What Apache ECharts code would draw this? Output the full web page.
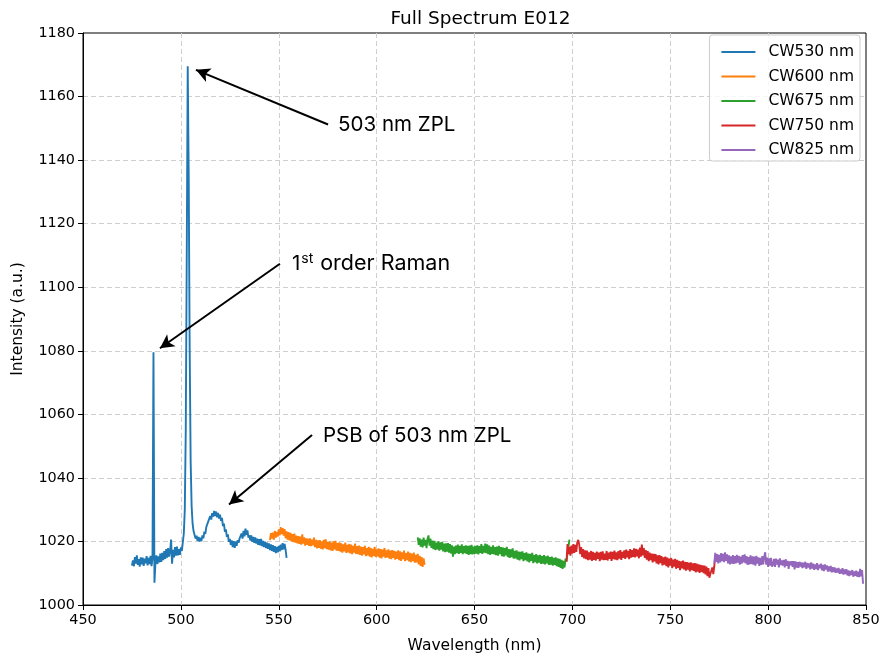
<!DOCTYPE html>
<html>
<head>
<meta charset="utf-8">
<script src="https://cdn.jsdelivr.net/npm/echarts@6/dist/echarts.min.js"></script>
<style>html,body{margin:0;padding:0;background:#fff}#c{width:887px;height:659px}</style>
</head>
<body>
<div id="c"></div>
<script>
// Sampling grid (nm) for each measured window
const step = 0.5;
const cw530Start = 475.0;
const cw600Start = 545.5;
const cw675Start = 621.0;
const cw750Start = 697.0;
const cw825Start = 772.5;

const seriesNames = ['CW530 nm','CW600 nm','CW675 nm','CW750 nm','CW825 nm'];
const colors = ['#1f77b4','#ff7f0e','#2ca02c','#d62728','#9467bd'];

const cw530 = [
1012.4,1014.0,1012.2,1015.1,1013.0,1015.6,1012.6,1014.4,1012.1,1015.0,
1012.8,1014.9,1012.3,1014.6,1013.1,1015.4,1012.5,1014.8,1012.9,1015.5,
1012.2,1014.6,1079.5,1007.0,1013.2,1015.6,1012.9,1015.3,1013.4,1016.2,
1013.6,1016.4,1014.1,1017.0,1014.5,1017.6,1014.9,1017.9,1015.2,1017.0,
1020.6,1013.0,1017.4,1015.0,1018.2,1015.5,1018.4,1015.6,1017.6,1015.8,
1018.1,1017.0,1019.8,1022.5,1030.0,1055.0,1110.0,1169.5,1135.0,1080.0,
1045.0,1031.0,1025.5,1023.2,1022.6,1020.9,1021.8,1020.2,1021.4,1020.0,
1021.2,1020.1,1021.9,1021.0,1023.1,1022.4,1024.6,1024.0,1026.3,1025.7,
1028.0,1026.9,1028.9,1027.8,1029.6,1028.0,1029.4,1027.6,1029.0,1027.2,
1028.4,1026.5,1027.4,1024.8,1025.6,1023.0,1023.8,1021.4,1022.2,1019.9,
1020.8,1018.9,1020.3,1018.2,1020.1,1018.0,1019.9,1018.6,1020.4,1019.6,
1021.0,1020.4,1022.5,1020.9,1023.3,1021.6,1024.0,1022.1,1023.5,1021.2,
1022.0,1020.3,1021.9,1019.9,1021.4,1019.6,1021.3,1019.3,1020.9,1018.9,
1020.7,1018.8,1020.8,1018.5,1020.2,1018.2,1019.9,1017.9,1019.6,1017.7,
1019.4,1017.3,1019.1,1017.0,1018.8,1016.7,1018.5,1016.3,1018.3,1016.6,
1018.6,1016.9,1019.0,1017.3,1019.5,1017.5,1019.2,1017.4,1014.8
];
const cw600 = [
1020.4,1022.6,1020.9,1022.8,1020.6,1023.3,1021.2,1023.0,1021.5,1023.8,
1021.9,1024.5,1022.3,1024.2,1021.8,1023.9,1021.0,1023.2,1020.6,1022.9,
1020.3,1022.7,1020.0,1022.3,1019.8,1022.5,1019.6,1021.8,1019.4,1021.7,
1019.2,1021.5,1019.0,1022.2,1019.3,1021.3,1018.7,1021.0,1018.9,1020.9,
1018.6,1021.0,1018.5,1020.6,1018.8,1021.2,1018.2,1020.5,1017.8,1020.3,
1018.0,1020.4,1017.7,1020.0,1017.5,1020.5,1017.9,1020.7,1017.6,1019.8,
1017.4,1020.1,1017.2,1019.6,1017.0,1020.0,1017.5,1020.2,1017.1,1019.5,
1017.0,1019.7,1016.8,1019.4,1016.5,1019.1,1016.9,1019.6,1016.4,1018.9,
1016.6,1019.2,1016.2,1019.0,1016.0,1018.6,1016.5,1019.3,1016.1,1018.5,
1016.0,1018.7,1015.8,1018.4,1015.5,1018.2,1015.9,1018.6,1015.4,1017.9,
1015.6,1018.3,1015.2,1018.0,1015.0,1017.7,1015.5,1018.3,1015.1,1017.5,
1015.3,1017.8,1014.9,1017.6,1014.7,1017.4,1015.2,1017.9,1014.8,1017.2,
1015.0,1017.5,1014.6,1017.1,1014.4,1017.3,1014.8,1017.0,1014.3,1016.8,
1014.5,1017.2,1014.1,1016.9,1013.9,1016.6,1014.4,1017.1,1013.8,1016.3,
1014.1,1016.8,1013.7,1016.4,1013.5,1016.2,1013.8,1016.5,1013.3,1015.8,
1013.4,1016.1,1012.8,1015.5,1012.3,1015.1,1012.0,1014.7,1012.6
];
const cw675 = [
1021.3,1018.9,1021.0,1018.4,1020.6,1018.1,1021.2,1018.7,1020.5,1017.9,
1020.8,1021.9,1018.7,1020.9,1018.0,1020.3,1017.6,1020.2,1017.3,1019.6,
1017.5,1020.0,1017.1,1019.7,1017.4,1019.9,1016.9,1019.3,1016.6,1019.4,
1016.8,1019.5,1016.5,1019.2,1016.2,1018.8,1015.2,1018.4,1016.0,1018.7,
1016.3,1019.0,1016.1,1018.6,1016.4,1019.1,1016.0,1018.5,1016.3,1018.8,
1016.1,1018.6,1015.8,1018.7,1016.0,1018.9,1015.9,1018.4,1016.1,1018.6,
1016.2,1018.8,1015.9,1018.5,1016.4,1019.2,1016.1,1018.6,1016.5,1019.3,
1016.3,1019.1,1016.0,1018.7,1015.8,1018.3,1016.1,1018.8,1015.9,1018.2,
1015.7,1018.4,1015.5,1018.6,1016.0,1018.2,1015.4,1018.1,1015.2,1017.9,
1015.6,1018.3,1015.1,1017.6,1014.8,1017.5,1015.1,1017.8,1014.6,1017.0,
1014.7,1017.2,1014.3,1016.8,1014.0,1016.7,1014.4,1016.9,1013.8,1016.3,
1014.1,1016.6,1013.7,1016.2,1013.4,1016.1,1013.9,1016.4,1013.2,1015.7,
1013.5,1016.0,1013.1,1015.6,1013.3,1015.8,1012.9,1015.4,1013.0,1015.7,
1012.8,1015.3,1013.1,1015.5,1012.6,1015.1,1012.7,1015.2,1012.4,1014.8,
1012.6,1015.0,1012.2,1014.7,1012.0,1014.5,1011.7,1014.2,1011.4,1013.9,
1011.8,1014.6,1013.7,1016.2,1016.4,1020.6
];
const cw750 = [
1013.6,1019.2,1016.0,1018.3,1015.5,1018.7,1016.2,1019.2,1016.4,1018.9,
1016.7,1019.7,1020.5,1019.0,1016.0,1018.2,1015.1,1017.6,1014.7,1017.2,
1014.4,1017.1,1014.1,1016.6,1014.3,1017.0,1013.9,1016.7,1014.2,1016.4,
1014.0,1016.8,1014.5,1016.5,1013.8,1016.7,1014.3,1016.9,1014.1,1016.2,
1014.2,1017.0,1014.0,1016.5,1014.5,1016.8,1013.9,1016.7,1014.4,1017.1,
1014.3,1016.6,1014.1,1017.0,1014.6,1017.3,1014.2,1016.7,1014.8,1017.2,
1014.5,1017.4,1015.0,1017.0,1014.4,1017.6,1014.9,1017.3,1015.1,1017.8,
1015.0,1017.7,1015.3,1017.4,1014.7,1018.1,1015.2,1019.0,1015.6,1017.9,
1014.8,1017.3,1014.3,1017.0,1013.8,1016.5,1014.1,1016.2,1013.4,1016.1,
1013.7,1016.0,1013.1,1015.6,1012.8,1015.7,1013.2,1015.4,1012.5,1015.0,
1012.7,1015.2,1012.2,1014.9,1011.8,1014.6,1012.4,1014.8,1011.6,1014.3,
1012.1,1014.5,1011.4,1014.2,1011.7,1013.9,1011.0,1013.7,1011.5,1014.0,
1011.2,1013.6,1010.8,1013.5,1011.1,1013.3,1010.6,1013.4,1011.0,1013.1,
1010.7,1013.2,1010.3,1013.0,1010.5,1012.8,1010.1,1012.6,1010.4,1012.5,
1010.0,1012.4,1009.6,1012.1,1009.1,1011.6,1008.6,1009.8,1009.4,1011.8,
1009.7,1012.2,1015.6
];
const cw825 = [
1013.0,1016.4,1013.6,1016.0,1013.1,1015.8,1013.4,1016.3,1013.8,1016.1,
1013.5,1016.6,1013.9,1015.9,1013.1,1015.6,1012.8,1015.3,1013.0,1015.7,
1012.9,1015.4,1013.1,1015.8,1013.3,1015.5,1012.7,1015.2,1013.0,1015.7,
1013.4,1015.9,1013.1,1015.4,1012.6,1015.1,1012.8,1015.6,1012.9,1015.3,
1012.7,1015.2,1012.4,1015.5,1013.0,1015.0,1012.3,1014.8,1012.6,1015.4,
1012.8,1015.1,1016.6,1012.7,1014.9,1012.0,1014.7,1012.4,1014.8,1012.1,
1012.8,1014.5,1012.0,1014.6,1012.7,1014.3,1011.8,1014.7,1012.6,1014.0,
1012.4,1014.2,1011.8,1014.4,1012.3,1013.9,1011.4,1013.7,1012.5,1013.8,
1012.0,1013.8,1011.2,1013.7,1011.8,1013.5,1011.7,1013.6,1012.1,1013.4,
1011.6,1013.3,1011.9,1013.6,1011.4,1013.2,1011.8,1013.1,1011.2,1013.4,
1011.5,1013.0,1011.1,1012.8,1011.3,1013.2,1011.0,1012.7,1011.6,1013.0,
1010.9,1012.6,1010.7,1012.8,1011.2,1012.5,1010.5,1012.1,1010.6,1012.3,
1010.3,1011.9,1010.4,1011.8,1010.1,1011.5,1010.2,1011.7,1009.8,1011.2,
1009.9,1011.6,1009.6,1011.2,1009.7,1011.3,1009.3,1010.9,1009.1,1010.7,
1009.4,1011.0,1008.9,1010.6,1009.2,1010.8,1008.9,1010.5,1008.8,1011.4,
1009.0,1011.0,1006.7
];

const xTicks = [450,500,550,600,650,700,750,800,850];
const yTicks = [1000,1020,1040,1060,1080,1100,1120,1140,1160,1180];

// Annotations: text anchor and arrow tip, in data units
const annZPL   = {text:[575.2,1151.2], tip:[507.7,1168.4]};
const annRaman = {text:[550.6,1107.4], tip:[489.3,1080.8]};
const annPSB   = {text:[567.0,1053.5], tip:[524.6,1031.6]};

const starts = [cw530Start,cw600Start,cw675Start,cw750Start,cw825Start];
const vals = [cw530,cw600,cw675,cw750,cw825];

function pairs(start, arr){ return arr.map((v,i)=>[start + i*step, v]); }

const chart = echarts.init(document.getElementById('c'), null, {renderer:'canvas'});
const axisFont = 'DejaVu Sans';

const series = vals.map((arr,k)=>({
  name: seriesNames[k], type:'line', data: pairs(starts[k], arr),
  showSymbol:false, symbol:'none', lineStyle:{width:1.9, color:colors[k]}, itemStyle:{color:colors[k]},
  animation:false, z:3
}));
series[0].markLine = {
  silent:true, animation:false, symbol:['none','arrow'], symbolSize:[11,14],
  lineStyle:{color:'#000', width:2, type:'solid'}, label:{show:false},
  emphasis:{disabled:true},
  data:[
    [{coord:annZPL.text},{coord:annZPL.tip}],
    [{coord:annRaman.text},{coord:annRaman.tip}],
    [{coord:annPSB.text},{coord:annPSB.tip}]
  ]
};

chart.setOption({
  animation:false,
  backgroundColor:'#fff',
  title:{text:'Full Spectrum E012', left:475.5, top:5, textAlign:'center',
    textStyle:{fontFamily:axisFont, fontSize:18.5, fontWeight:'normal', color:'#000'}},
  grid:{left:83, right:21, top:33, bottom:51, show:true, borderColor:'#000', borderWidth:1, backgroundColor:'transparent'},
  legend:{
    data:seriesNames, right:27, top:35, orient:'vertical',
    icon:'rect', itemWidth:34, itemHeight:2, itemGap:6.5,
    padding:[8,6,2,12], borderColor:'#cccccc', borderWidth:1, borderRadius:3,
    backgroundColor:'rgba(255,255,255,0.8)',
    textStyle:{fontFamily:axisFont, fontSize:15.5, color:'#000', lineHeight:18, padding:[0,0,0,8]}
  },
  xAxis:{
    type:'value', min:xTicks[0], max:xTicks[xTicks.length-1], interval:50,
    name:'Wavelength (nm)', nameLocation:'middle', nameGap:33,
    nameTextStyle:{fontFamily:axisFont, fontSize:15.5, color:'#000'},
    axisLine:{show:true, lineStyle:{color:'#000', width:1}},
    axisTick:{show:true, length:5, inside:false, lineStyle:{color:'#000'}},
    axisLabel:{fontFamily:axisFont, fontSize:14.4, color:'#000', margin:8, formatter:v=>String(v)},
    splitLine:{show:true, showMinLine:false, showMaxLine:false, lineStyle:{color:'#cfcfcf', type:[5,3], width:1}}
  },
  yAxis:{
    type:'value', min:yTicks[0], max:yTicks[yTicks.length-1], interval:20,
    name:'Intensity (a.u.)', nameLocation:'middle', nameGap:57,
    nameTextStyle:{fontFamily:axisFont, fontSize:15.5, color:'#000'},
    axisLine:{show:true, lineStyle:{color:'#000', width:1}},
    axisTick:{show:true, length:5, inside:false, lineStyle:{color:'#000'}},
    axisLabel:{fontFamily:axisFont, fontSize:14.4, color:'#000', margin:8, formatter:v=>String(v)},
    splitLine:{show:true, showMinLine:false, showMaxLine:false, lineStyle:{color:'#cfcfcf', type:[5,3], width:1}}
  },
  series: series
});

function place(){
  const annFont = 'Inter';
  const p1 = chart.convertToPixel({gridIndex:0}, annZPL.text);
  const p2 = chart.convertToPixel({gridIndex:0}, annRaman.text);
  const p3 = chart.convertToPixel({gridIndex:0}, annPSB.text);
  chart.setOption({graphic:[
    {type:'text', x:p1[0]+10, y:p1[1], style:{text:'503 nm ZPL', font:'20.5px '+annFont, fill:'#000', textVerticalAlign:'middle'}, z:10},
    {type:'text', x:p2[0]+12, y:p2[1], style:{text:'{n|1}{s|st}{o|order Raman}', textVerticalAlign:'middle',
       rich:{n:{fontFamily:annFont, fontSize:20.5, color:'#000'},
             s:{fontFamily:annFont, fontSize:14, color:'#000', padding:[0,0,9,1], verticalAlign:'top'},
             o:{fontFamily:annFont, fontSize:21.5, color:'#000', padding:[0,0,0,7]}}}, z:10},
    {type:'text', x:p3[0]+11, y:p3[1]+1, style:{text:'PSB of 503 nm ZPL', font:'20.5px '+annFont, fill:'#000', textVerticalAlign:'middle'}, z:10}
  ]});
}
place();
</script>
</body>
</html>
